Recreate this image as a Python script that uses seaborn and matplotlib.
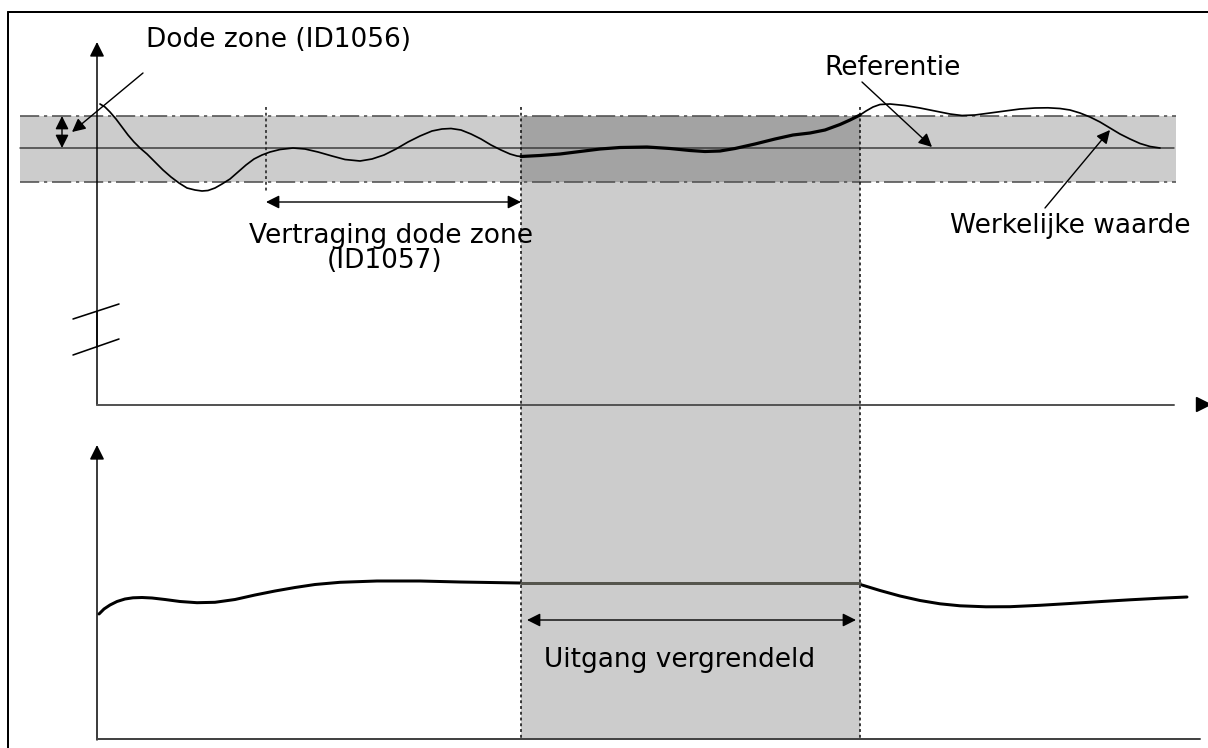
import matplotlib
matplotlib.use("Agg")
import matplotlib.pyplot as plt
import seaborn as sns

# Controller process value (top panel), in canvas pixel units
actual_x = [100, 105, 110, 116, 122, 128, 134, 140, 147, 155, 163, 171, 179, 187, 195,
            202, 208, 215, 222, 230, 238, 246, 254, 262, 270, 280, 293, 305, 318, 332,
            345, 360, 372, 384, 396, 408, 420, 432, 442, 451, 461, 471, 481, 491, 501,
            510, 517, 521]
actual_y = [104, 107, 112, 119, 127, 135, 142, 148, 154, 162, 170, 177, 183, 188, 190,
            191, 190.5, 188, 184, 179, 172, 165, 159, 155, 152, 149.5, 148, 149, 152, 156,
            159.5, 161, 159, 155, 149, 142, 136, 131, 129, 128.5, 130, 134, 139, 145, 150,
            154, 156, 156.5]

# Part of the actual value while the output is locked (drawn heavier)
locked_x = [521, 540, 560, 580, 600, 620, 647, 670, 690, 705, 720, 735, 755, 775, 793,
            810, 825, 840, 850, 860]
locked_y = [156.5, 155.5, 154, 151.5, 149, 147.5, 147, 148.5, 150.5, 151.5, 151, 148.5,
            144, 139, 135, 133, 130, 124.5, 120, 115]

after_x = [860, 866, 873, 880, 890, 905, 920, 935, 950, 962, 975, 990, 1005, 1020,
           1035, 1048, 1060, 1070, 1080, 1090, 1100, 1110, 1120, 1130, 1140, 1150, 1160]
after_y = [115, 111, 107, 104.5, 104, 105.5, 108, 111, 114, 115.5, 115, 113, 111, 109,
           108, 107.8, 108.5, 110, 113, 117, 122, 128, 134, 139, 143.5, 146.5, 148]

# Controller output (bottom panel)
out_before_x = [99, 104, 110, 117, 125, 133, 142, 152, 165, 180, 197, 215, 235, 255,
                275, 295, 315, 340, 377, 420, 460, 520]
out_before_y = [614, 609, 605, 601.5, 599, 597.8, 597.5, 598, 599.5, 601.5, 602.7, 602.3,
                599.5, 595, 591, 587.5, 584.5, 582.3, 581, 581, 582, 583]
out_locked_x = [521, 860]
out_locked_y = [583, 583]
out_after_x = [862, 880, 900, 920, 940, 960, 986, 1010, 1040, 1070, 1100, 1130, 1160, 1187]
out_after_y = [585, 590.5, 596, 600.5, 603.8, 605.8, 606.8, 606.7, 605.3, 603.5, 601.6,
               599.8, 598.2, 597]

# Dead-zone band and time markers
band_left, band_right = 20, 1176
band_top, band_ref, band_bottom = 116, 148, 182
delay_start, lock_start, lock_end = 266, 521, 860

labels = {
    "deadzone": "Dode zone (ID1056)",
    "reference": "Referentie",
    "actual": "Werkelijke waarde",
    "delay1": "Vertraging dode zone",
    "delay2": "(ID1057)",
    "locked": "Uitgang vergrendeld",
}

sns.set_style("white")
plt.rcParams["font.family"] = ["DejaVu Sans"]
plt.rcParams["text.color"] = "black"

W, H = 1208, 748
fig = plt.figure(figsize=(W / 100, H / 100), dpi=100)
ax = fig.add_axes([0, 0, 1, 1])
ax.set_xlim(0, W)
ax.set_ylim(H, 0)
ax.axis("off")

PX = 0.72  # one pixel in points
LIGHT = "#cccccc"
DARK = "#a3a3a3"
LINE_GRAY = "#505050"

# outer frame
ax.plot([8, 8], [12, H + 5], color="black", lw=2 * PX)
ax.plot([8, W + 5], [12, 12], color="black", lw=2 * PX)

# shaded regions
ax.fill_between([band_left, band_right], band_top, band_bottom, color=LIGHT, lw=0, zorder=1)
ax.fill_between([lock_start, lock_end], band_top, band_bottom, color=DARK, lw=0, zorder=1)
ax.fill_between([lock_start, lock_end], band_bottom, 739, color=LIGHT, lw=0, zorder=1)

# band limits and reference
for yb in (band_top, band_bottom):
    ax.plot([band_left, band_right], [yb, yb], color=LINE_GRAY, lw=1.6 * PX,
            dashes=(12, 3, 2, 3), zorder=2)
ax.plot([band_left, 1174], [band_ref, band_ref], color="#3a3a3a", lw=1.5 * PX, zorder=2)

# dotted time markers
ax.plot([delay_start, delay_start], [107, 192], color="#222222", lw=1.6 * PX,
        dashes=(1.8, 1.8), zorder=3)
for xv in (lock_start, lock_end):
    ax.plot([xv, xv], [107, 739], color="#111111", lw=1.6 * PX, dashes=(1.8, 1.8), zorder=3)

# top panel axes
ax.plot([97, 97], [405, 312], color="black", lw=1.5 * PX, zorder=4)
ax.annotate("", xy=(97, 42), xytext=(97, 347),
            arrowprops=dict(arrowstyle="-|>", color="black", lw=1.5 * PX,
                            mutation_scale=22, shrinkA=0, shrinkB=0), zorder=4)
ax.plot([73, 119], [319, 304], color="black", lw=1.6 * PX, zorder=4)
ax.plot([73, 119], [355, 339], color="black", lw=1.6 * PX, zorder=4)
ax.plot([97, 1174], [405, 405], color="#555555", lw=2 * PX, zorder=4)
ax.plot([1203], [404], marker=">", color="black", markersize=10, zorder=4)

# bottom panel axes
ax.annotate("", xy=(97, 445), xytext=(97, 740),
            arrowprops=dict(arrowstyle="-|>", color="black", lw=1.5 * PX,
                            mutation_scale=22, shrinkA=0, shrinkB=0), zorder=4)
ax.plot([97, 1200], [739, 739], color="#444444", lw=2 * PX, zorder=4)

# curves
curve_kw = dict(ax=ax, sort=False, estimator=None, legend=False,
                solid_joinstyle="round", solid_capstyle="round")
sns.lineplot(x=actual_x, y=actual_y, color="black", lw=1.7 * PX, zorder=5, **curve_kw)
sns.lineplot(x=locked_x, y=locked_y, color="black", lw=3.2 * PX, zorder=5, **curve_kw)
sns.lineplot(x=after_x, y=after_y, color="black", lw=1.7 * PX, zorder=5, **curve_kw)
sns.lineplot(x=out_before_x, y=out_before_y, color="black", lw=3 * PX, zorder=5, **curve_kw)
sns.lineplot(x=out_locked_x, y=out_locked_y, color="#55554d", lw=3 * PX, zorder=5, **curve_kw)
sns.lineplot(x=out_after_x, y=out_after_y, color="black", lw=3 * PX, zorder=5, **curve_kw)

arrow_kw = dict(color="black", lw=1.4 * PX, mutation_scale=20, shrinkA=0, shrinkB=0)
FS = 19

# dead zone width marker and label
ax.annotate("", xy=(62, 116), xytext=(62, 148),
            arrowprops=dict(arrowstyle="<|-|>", **arrow_kw), zorder=6)
ax.annotate("", xy=(72, 132), xytext=(143, 73),
            arrowprops=dict(arrowstyle="-|>", **arrow_kw), zorder=6)
ax.text(146, 40, labels["deadzone"], fontsize=FS, va="center", ha="left")

# reference label
ax.annotate("", xy=(932, 147), xytext=(862, 82),
            arrowprops=dict(arrowstyle="-|>", **arrow_kw), zorder=6)
ax.text(824, 68, labels["reference"], fontsize=FS, va="center", ha="left")

# actual value label
ax.annotate("", xy=(1110, 130), xytext=(1045, 208),
            arrowprops=dict(arrowstyle="-|>", **arrow_kw), zorder=6)
ax.text(1190, 226, labels["actual"], fontsize=FS, va="center", ha="right")

# dead zone delay
ax.annotate("", xy=(delay_start, 202), xytext=(lock_start, 202),
            arrowprops=dict(arrowstyle="<|-|>", **arrow_kw), zorder=6)
ax.text(391, 236, labels["delay1"], fontsize=FS, va="center", ha="center")
ax.text(385, 261, labels["delay2"], fontsize=FS, va="center", ha="center")

# locked output
ax.annotate("", xy=(lock_start + 6, 620), xytext=(lock_end - 4, 620),
            arrowprops=dict(arrowstyle="<|-|>", **arrow_kw), zorder=6)
ax.text(680, 660, labels["locked"], fontsize=FS, va="center", ha="center")

fig.savefig("out.png", dpi=100)
